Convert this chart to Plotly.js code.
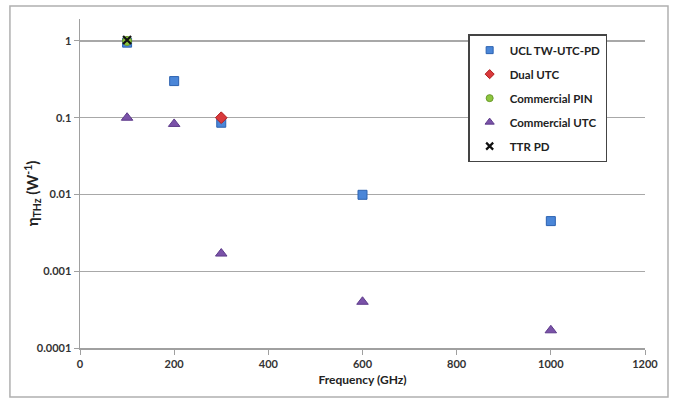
<!DOCTYPE html>
<html><head><meta charset="utf-8">
<script src="https://cdn.plot.ly/plotly-3.0.1.min.js"></script>
<style>body{margin:0;background:#fff}#c{width:674px;height:399px}</style>
</head><body><div id="c"></div>
<script>
const uclX = [100, 200, 300, 600, 1000];
const uclY = [0.95, 0.30, 0.086, 0.0099, 0.0045];
const dualX = [300];
const dualY = [0.1];
const pinX = [100];
const pinY = [1.0];
const cutcX = [100, 200, 300, 600, 1000];
const cutcY = [0.1, 0.083, 0.0017, 0.00040, 0.00017];
const ttrX = [100];
const ttrY = [1.03];
const names = ['UCL TW-UTC-PD', 'Dual UTC', 'Commercial PIN', 'Commercial UTC', 'TTR PD'];
const yTitle = 'η<sub>THz</sub> (W<sup>-1</sup>)';

const font = 'Lato, "Open Sans", sans-serif';
const styles = [
  {symbol: 'square', color: '#4a86d8', line: {color: '#2c62b0', width: 1}, size: 9, lsize: 7},
  {symbol: 'diamond', color: '#d9393c', line: {color: '#b02020', width: 1}, size: 9, lsize: 7},
  {symbol: 'circle', color: '#8dc63f', line: {color: '#6a9a2a', width: 1}, size: 9, lsize: 7},
  {symbol: 'triangle-up', color: '#7a52a8', line: {color: '#5d3a8a', width: 1}, size: 10, lsize: 8},
  {symbol: 'x-thin', color: '#111', line: {color: '#111', width: 2.2}, size: 8, lsize: 7}
];
const xs = [uclX, dualX, pinX, cutcX, ttrX];
const ys = [uclY, dualY, pinY, cutcY, ttrY];
const traces = [];
xs.forEach((x, i) => {
  const s = styles[i];
  traces.push({type: 'scatter', mode: 'markers', x: x, y: ys[i], name: names[i], showlegend: false,
    marker: {symbol: s.symbol, size: s.size, color: s.color, line: s.line}});
});
names.forEach((n, i) => {
  const s = styles[i];
  traces.push({type: 'scatter', mode: 'markers', x: [null], y: [null], name: n, legendgroup: 'g' + i,
    marker: {symbol: s.symbol, size: s.lsize, color: s.color, line: s.line}});
});

const layout = {
  width: 674, height: 399,
  margin: {l: 80, r: 29, t: 19, b: 51},
  paper_bgcolor: '#fff', plot_bgcolor: '#fff',
  font: {family: font, size: 11, color: '#333'},
  showlegend: true,
  legend: {x: 0.687, y: 0.954, xanchor: 'left', yanchor: 'top', bordercolor: '#444', borderwidth: 1.5,
    bgcolor: '#fff', font: {family: font, size: 11.5, color: '#222', weight: 'bold'}, traceorder: 'grouped', tracegroupgap: 5,
    itemwidth: 30},
  xaxis: {
    range: [0, 1200], tickvals: [0, 200, 400, 600, 800, 1000, 1200], ticktext: ['0','200','400','600','800','1000','1200'],
    showgrid: false, zeroline: false, showline: true, linecolor: '#a0a0a0', linewidth: 1.5,
    ticks: 'outside', ticklen: 5, tickcolor: '#a0a0a0', tickfont: {family: font, size: 11, color: '#333', weight: 'bold'},
    title: {text: 'Frequency (GHz)', font: {family: font, size: 12, color: '#222', weight: 'bold'}, standoff: 7}
  },
  yaxis: {
    type: 'log', range: [-4, 0.286],
    tickvals: [0.0001, 0.001, 0.01, 0.1, 1], ticktext: ['0.0001', '0.001', '0.01', '0.1', '1'],
    showgrid: true, gridcolor: '#a8a8a8', gridwidth: 1.2, zeroline: false,
    showline: true, linecolor: '#a0a0a0', linewidth: 1.5, ticks: 'outside', ticklen: 5, tickcolor: '#a0a0a0',
    tickfont: {family: font, size: 11, color: '#333', weight: 'bold'}
  },
  annotations: [{text: yTitle, xref: 'paper', yref: 'paper', x: -0.085, y: 0.47, xanchor: 'center', yanchor: 'middle',
    textangle: -90, showarrow: false, font: {family: font, size: 15, color: '#222', weight: 'bold'}}],
  shapes: [{type: 'rect', xref: 'paper', yref: 'paper', x0: -0.124, x1: 1.0407, y0: -0.149, y1: 1.0395,
    line: {color: '#b0b0b0', width: 1.5}, layer: 'below'}]
};
Plotly.newPlot('c', traces, layout, {displayModeBar: false, staticPlot: true});
</script></body></html>
